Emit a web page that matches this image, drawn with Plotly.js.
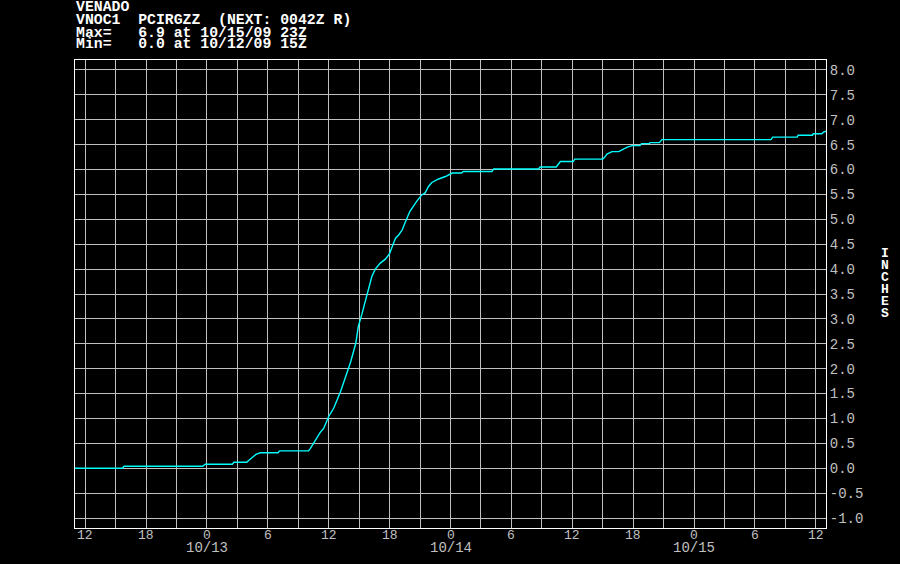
<!DOCTYPE html>
<html><head><meta charset="utf-8">
<script src="https://cdn.plot.ly/plotly-3.0.1.min.js"></script>
<style>html,body{margin:0;padding:0;background:#000;}</style>
</head><body><div id="chart" style="width:900px;height:564px;"></div>
<script>
const times = [
"2009-10-12 11:00","2009-10-12 15:40","2009-10-12 15:50","2009-10-12 23:35","2009-10-12 23:50",
"2009-10-13 02:30","2009-10-13 02:40","2009-10-13 03:55","2009-10-13 04:05","2009-10-13 04:30",
"2009-10-13 04:50","2009-10-13 05:15","2009-10-13 07:00","2009-10-13 07:10","2009-10-13 10:00",
"2009-10-13 10:10","2009-10-13 10:30","2009-10-13 10:50","2009-10-13 11:10","2009-10-13 11:30",
"2009-10-13 11:50","2009-10-13 12:00","2009-10-13 12:30","2009-10-13 12:50","2009-10-13 13:10",
"2009-10-13 13:40","2009-10-13 14:10","2009-10-13 14:40","2009-10-13 14:55","2009-10-13 15:15",
"2009-10-13 15:35","2009-10-13 15:55","2009-10-13 16:15","2009-10-13 16:35","2009-10-13 17:05",
"2009-10-13 17:35","2009-10-13 18:00","2009-10-13 18:15","2009-10-13 18:35","2009-10-13 18:55",
"2009-10-13 19:15","2009-10-13 19:30","2009-10-13 20:00","2009-10-13 20:40","2009-10-13 21:10",
"2009-10-13 21:30","2009-10-13 21:50","2009-10-13 22:10","2009-10-13 22:50","2009-10-13 23:30",
"2009-10-14 00:10","2009-10-14 01:05","2009-10-14 01:15","2009-10-14 04:05","2009-10-14 04:15",
"2009-10-14 08:40","2009-10-14 08:50","2009-10-14 10:25","2009-10-14 10:50","2009-10-14 12:05",
"2009-10-14 12:15","2009-10-14 15:00","2009-10-14 15:10","2009-10-14 15:25","2009-10-14 15:55",
"2009-10-14 16:35","2009-10-14 16:45","2009-10-14 17:05","2009-10-14 17:25","2009-10-14 17:55",
"2009-10-14 18:40","2009-10-14 18:50","2009-10-14 19:35","2009-10-14 19:40","2009-10-14 20:35",
"2009-10-14 20:50","2009-10-15 07:35","2009-10-15 07:45","2009-10-15 10:10","2009-10-15 10:15",
"2009-10-15 11:40","2009-10-15 11:45","2009-10-15 12:35","2009-10-15 12:45","2009-10-15 13:00"
];
const inches = [
0.00,0.00,0.04,0.04,0.08,
0.08,0.12,0.12,0.15,0.23,
0.28,0.31,0.31,0.35,0.35,
0.39,0.50,0.62,0.72,0.80,
0.97,1.04,1.21,1.37,1.54,
1.84,2.14,2.51,2.85,3.08,
3.35,3.58,3.85,4.00,4.12,
4.20,4.31,4.45,4.62,4.69,
4.79,4.92,5.16,5.36,5.49,
5.53,5.66,5.74,5.81,5.86,
5.93,5.93,5.96,5.96,6.01,
6.01,6.05,6.05,6.16,6.16,
6.21,6.21,6.24,6.31,6.36,
6.36,6.38,6.42,6.45,6.48,
6.48,6.52,6.52,6.54,6.54,
6.60,6.60,6.65,6.65,6.69,
6.69,6.72,6.72,6.75,6.77
];
const xTickVals = [
"2009-10-12 12:00","2009-10-12 15:00","2009-10-12 18:00","2009-10-12 21:00",
"2009-10-13 00:00","2009-10-13 03:00","2009-10-13 06:00","2009-10-13 09:00",
"2009-10-13 12:00","2009-10-13 15:00","2009-10-13 18:00","2009-10-13 21:00",
"2009-10-14 00:00","2009-10-14 03:00","2009-10-14 06:00","2009-10-14 09:00",
"2009-10-14 12:00","2009-10-14 15:00","2009-10-14 18:00","2009-10-14 21:00",
"2009-10-15 00:00","2009-10-15 03:00","2009-10-15 06:00","2009-10-15 09:00",
"2009-10-15 12:00"
];
const xTickText = [
"12","","18","",
"0","","6","",
"12","","18","",
"0","","6","",
"12","","18","",
"0","","6","",
"12"
];
const dateLabelVals = ["2009-10-13 00:00","2009-10-14 00:00","2009-10-15 00:00"];
const dateLabelText = ["10/13","10/14","10/15"];
const yTickVals = [-1.0,-0.5,0.0,0.5,1.0,1.5,2.0,2.5,3.0,3.5,4.0,4.5,5.0,5.5,6.0,6.5,7.0,7.5,8.0];
const yTickText = ["-1.0","-0.5","0.0","0.5","1.0","1.5","2.0","2.5","3.0","3.5","4.0","4.5","5.0","5.5","6.0","6.5","7.0","7.5","8.0"];
const headerLines = [
"VENADO",
"VNOC1  PCIRGZZ  (NEXT: 0042Z R)",
"Max=   6.9 at 10/15/09 23Z",
"Min=   0.0 at 10/12/09 15Z"
];
const unitLetters = ["I","N","C","H","E","S"];

const plotTop = 60, plotBottom = 528, plotH = plotBottom - plotTop;
const headerCenters = [7.3, 20.3, 32.8, 44];
const annotations = [];
headerLines.forEach((t, i) => {
  annotations.push({
    text: t.replace(/ /g, "\u00a0"), xref: "paper", yref: "paper", x: 0, y: 1,
    xanchor: "left", yanchor: "middle", yshift: plotTop - headerCenters[i], xshift: -1,
    showarrow: false, font: {family: "Liberation Mono", size: 14.8, color: "#ffffff", weight: "bold"}
  });
});
xTickVals.forEach((v, i) => {
  if (!xTickText[i]) return;
  annotations.push({
    text: xTickText[i], xref: "x", yref: "paper", x: v, y: 0,
    xanchor: "center", yanchor: "middle", yshift: -7.5,
    showarrow: false, font: {family: "Liberation Mono", size: 13, color: "#c0c0c0"}
  });
});
dateLabelVals.forEach((v, i) => {
  annotations.push({
    text: dateLabelText[i], xref: "x", yref: "paper", x: v, y: 0,
    xanchor: "center", yanchor: "middle", yshift: -19.5,
    showarrow: false, font: {family: "Liberation Mono", size: 14, color: "#c0c0c0"}
  });
});
unitLetters.forEach((l, i) => {
  const cy = 253.3 + 12 * i;
  annotations.push({
    text: l, xref: "paper", yref: "paper", x: 1, y: (plotBottom - cy) / plotH,
    xanchor: "center", yanchor: "middle", xshift: 58.5,
    showarrow: false, font: {family: "Liberation Mono", size: 13, color: "#ffffff", weight: "bold"}
  });
});

const trace = {
  x: times, y: inches, type: "scatter", mode: "lines",
  line: {color: "#00ffff", width: 1.4, shape: "linear"}, hoverinfo: "skip"
};

const layout = {
  width: 900, height: 564,
  margin: {l: 75, r: 74, t: 60, b: 36, pad: 0},
  paper_bgcolor: "#000000", plot_bgcolor: "#000000",
  showlegend: false,
  xaxis: {
    type: "date", range: ["2009-10-12 11:00", "2009-10-15 13:00"],
    tickmode: "array", tickvals: xTickVals, ticktext: xTickText,
    showticklabels: false,
    showgrid: true, gridcolor: "#c0c0c0", gridwidth: 1,
    showline: true, linecolor: "#ffffff", linewidth: 1, mirror: true,
    ticks: "", zeroline: false, fixedrange: true
  },
  yaxis: {
    side: "right", range: [-1.2, 8.2],
    tickmode: "array", tickvals: yTickVals, ticktext: yTickText,
    showgrid: true, gridcolor: "#c0c0c0", gridwidth: 1,
    showline: true, linecolor: "#ffffff", linewidth: 1, mirror: true,
    ticks: "", zeroline: false, fixedrange: true,
    tickfont: {family: "Liberation Mono", size: 14, color: "#c0c0c0"}
  },
  annotations: annotations
};

Plotly.newPlot("chart", [trace], layout, {staticPlot: true, displayModeBar: false});
</script>
</body></html>
